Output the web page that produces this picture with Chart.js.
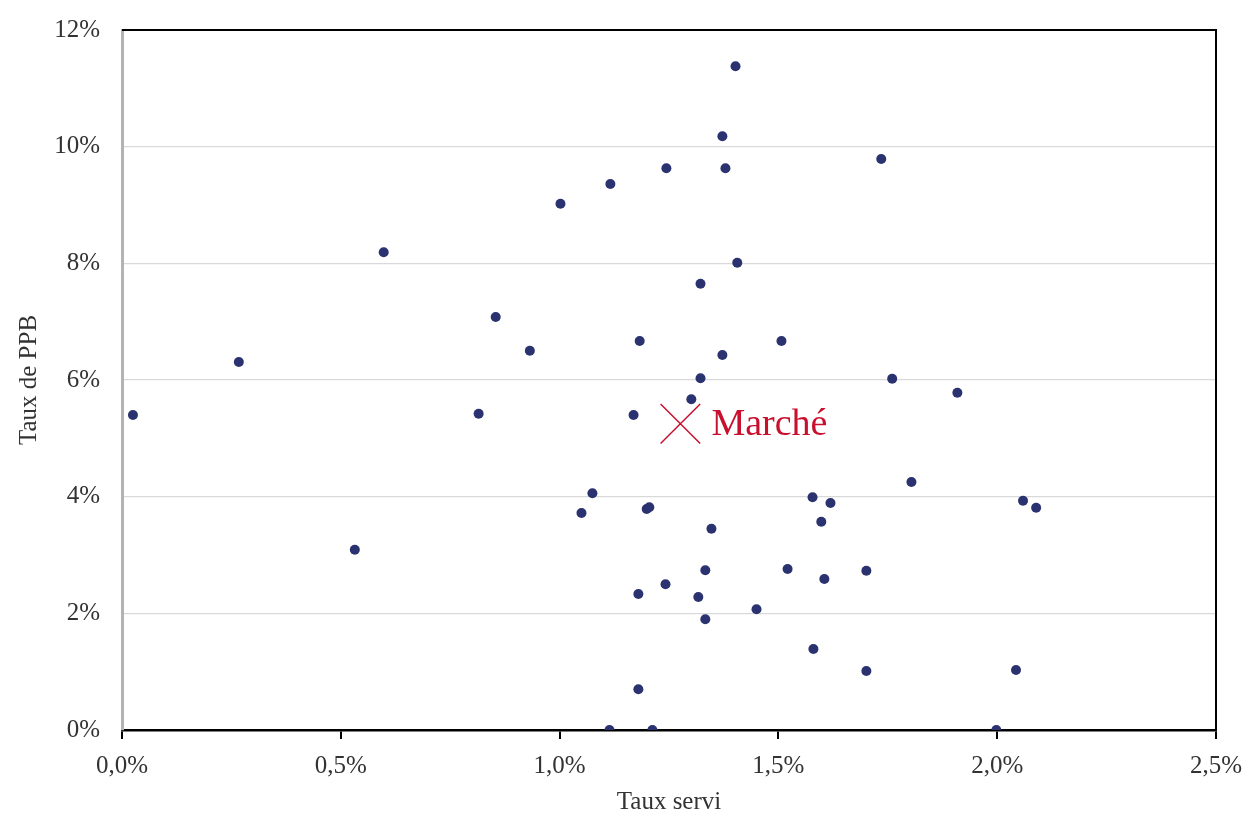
<!DOCTYPE html>
<html>
<head>
<meta charset="utf-8">
<script src="https://cdn.jsdelivr.net/npm/chart.js@4/dist/chart.umd.min.js"></script>
<style>
  html, body { margin: 0; padding: 0; background: #fff; }
  #wrap { width: 1260px; height: 825px; }
</style>
</head>
<body>
<div id="wrap"><canvas id="graf" width="1260" height="825"></canvas></div>
<script>
// taux servi (%) et taux de PPB (%)
const tauxServi = [
  0.025, 0.267, 0.532, 0.598, 0.815, 0.854, 0.932, 1.002, 1.050, 1.075,
  1.116, 1.114, 1.169, 1.183, 1.180, 1.180, 1.199, 1.205, 1.212, 1.244,
  1.242, 1.301, 1.322, 1.322, 1.317, 1.333, 1.333, 1.347, 1.372, 1.372,
  1.379, 1.402, 1.406, 1.450, 1.507, 1.521, 1.578, 1.580, 1.598, 1.605,
  1.619, 1.701, 1.701, 1.735, 1.760, 1.804, 1.909, 1.998, 2.043, 2.059,
  2.089
];
const tauxPPB = [
  5.40, 6.31, 3.09, 8.19, 5.42, 7.08, 6.50, 9.02, 3.72, 4.06,
  9.36, 0.00, 5.40, 6.67, 2.33, 0.70, 3.79, 3.82, 0.00, 9.63,
  2.50, 5.67, 6.03, 7.65, 2.28, 2.74, 1.90, 3.45, 6.43, 10.18,
  9.63, 11.38, 8.01, 2.07, 6.67, 2.76, 3.99, 1.39, 3.57, 2.59,
  3.89, 2.73, 1.01, 9.79, 6.02, 4.25, 5.78, 0.00, 1.03, 3.93,
  3.81
];
const marcheLabel = "Marché";
const marcheServi = [1.276];
const marchePPB = [5.25];

const xTicks = [0, 0.5, 1, 1.5, 2, 2.5];
const yTicks = [0, 2, 4, 6, 8, 10, 12];

const police = "'Liberation Serif', 'DejaVu Serif', serif";
const rouge = "#c8102e";

// cadre haut et droit + étiquette "Marché"
const cadrePlugin = {
  id: "cadre",
  afterDraw(chart) {
    const { ctx, chartArea } = chart;
    ctx.save();
    ctx.strokeStyle = "#000";
    ctx.lineWidth = 2;
    ctx.beginPath();
    ctx.moveTo(chartArea.left, chartArea.top);
    ctx.lineTo(chartArea.right, chartArea.top);
    ctx.lineTo(chartArea.right, chartArea.bottom);
    ctx.stroke();

    const pt = chart.getDatasetMeta(1).data[0];
    ctx.fillStyle = rouge;
    ctx.font = "38px " + police;
    ctx.textBaseline = "middle";
    ctx.textAlign = "left";
    ctx.fillText(marcheLabel, pt.x + 31, pt.y + 1);
    ctx.restore();
  },
};

const data = {
  datasets: [
    {
      label: "Sociétés",
      data: tauxServi.map((x, i) => ({ x: x, y: tauxPPB[i] })),
      backgroundColor: "#2b3270",
      borderColor: "#2b3270",
      pointRadius: 5,
      pointBorderWidth: 0,
    },
    {
      label: marcheLabel,
      data: marcheServi.map((x, i) => ({ x: x, y: marchePPB[i] })),
      pointStyle: "crossRot",
      pointRadius: 28,
      borderColor: rouge,
      borderWidth: 1.5,
      backgroundColor: rouge,
    },
  ],
};

const config = {
  type: "scatter",
  data,
  options: {
    responsive: false,
    animation: false,
    layout: { padding: { top: 30, right: 44, left: 0, bottom: 0 } },
    plugins: { legend: { display: false }, tooltip: { enabled: false } },
    scales: {
      x: {
        type: "linear",
        min: 0,
        max: 2.5,
        afterBuildTicks: (s) => { s.ticks = xTicks.map((v) => ({ value: v })); },
        afterFit: (s) => { s.height = 95; s.paddingLeft = 0; s.paddingRight = 0; },
        grid: { display: true, drawOnChartArea: false, drawTicks: true, tickLength: 9, color: "#000", lineWidth: 2 },
        border: { display: true, color: "#000", width: 2.5 },
        ticks: {
          color: "#333",
          font: { family: police, size: 25 },
          padding: 12,
          callback: (v) => v.toFixed(1).replace(".", ",") + "%",
        },
        title: {
          display: true,
          text: "Taux servi",
          color: "#333",
          font: { family: police, size: 25 },
          padding: { top: 0, bottom: 8 },
        },
      },
      y: {
        type: "linear",
        min: 0,
        max: 12,
        afterBuildTicks: (s) => { s.ticks = yTicks.map((v) => ({ value: v })); },
        afterFit: (s) => { s.width = 122; s.paddingTop = 0; s.paddingBottom = 0; },
        grid: { color: "#d9d9d9", lineWidth: 1.2, drawTicks: false },
        border: { display: true, color: "#b3b3b3", width: 3 },
        ticks: {
          color: "#333",
          font: { family: police, size: 25 },
          padding: 22,
          callback: (v) => v + "%",
        },
        title: {
          display: true,
          text: "Taux de PPB",
          color: "#333",
          font: { family: police, size: 25 },
          padding: { top: 14, bottom: 0 },
        },
      },
    },
  },
  plugins: [cadrePlugin],
};

new Chart(document.getElementById("graf"), config);
</script>
</body>
</html>
